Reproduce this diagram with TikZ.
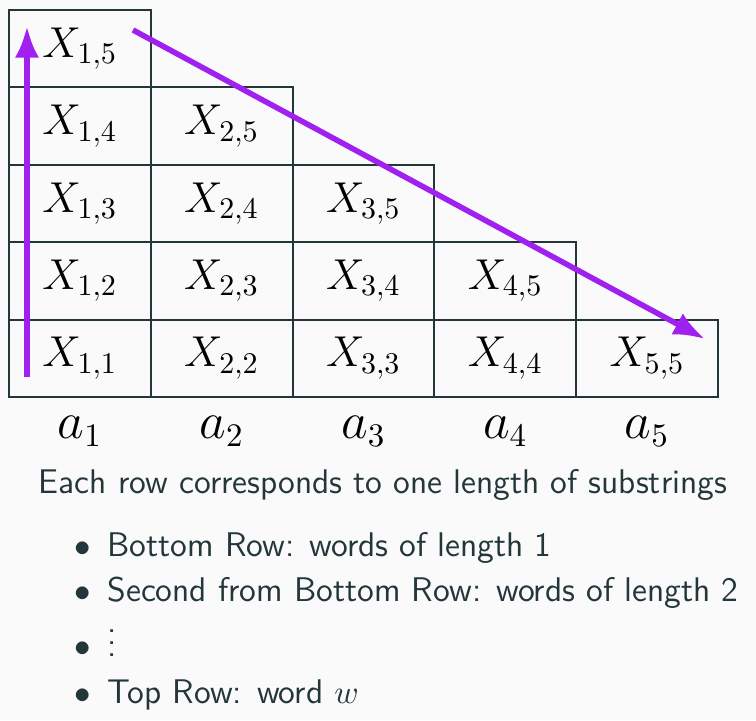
\documentclass[tikz,border=0pt]{standalone}
\usepackage{amsmath}
\usepackage{amssymb}
\usetikzlibrary{arrows.meta, positioning}

\definecolor{slidebg}{HTML}{FAFAFA}
\definecolor{slidefg}{HTML}{23373B}
\definecolor{arrowviolet}{HTML}{A020F0}

\begin{document}
\begin{tikzpicture}[
    x=0.3333pt, y=-0.3333pt,
    cell/.style={draw=slidefg, line width=0.65pt, minimum width=47.27pt, minimum height=25.8pt, inner sep=0pt, font=\fontsize{13.7}{16}\selectfont},
    lbl/.style={font=\fontsize{16}{19}\selectfont, inner sep=0pt},
    txt/.style={text=slidefg, font=\sffamily\fontsize{11.4}{13}\selectfont, inner sep=0pt},
    sweep/.style={draw=arrowviolet, line width=1.85pt, -{Latex[length=10.5pt, width=8pt]}}
]
% background and bounding box
\fill[slidebg] (0,0) rectangle (756,720);
\useasboundingbox (0,0) rectangle (756,720);

% Table cells
\foreach \i in {1,...,5} {
  \foreach \j in {\i,...,5} {
    \node[cell] (c\i\j) at ({9+141.8*(\i-0.5)}, {397-77.4*(\j-\i+0.5)}) {$X_{\i,\j}$};
  }
  \node[lbl] (a\i) at ({9+141.8*(\i-0.5)}, 431) {$a_{\i}$};
}

% Sweep arrows
\coordinate (upstart) at (27,377);
\coordinate (upend) at (27,26);
\coordinate (diagstart) at (133,30);
\coordinate (diagend) at (705,339);
\draw[sweep] (upstart) -- (upend);
\draw[sweep] (diagstart) -- (diagend);

% Caption and list
\node[txt, anchor=base] (cap) at (383,493) {Each row corresponds to one length of substrings};
\node[txt, anchor=base west] (it1) at (107,556) {Bottom Row: words of length 1};
\node[txt, anchor=base west] (it2) at (107,601) {Second from Bottom Row: words of length 2};
\node[txt, anchor=base west] (it3) at (107,656) {$\vdots$};
\node[txt, anchor=base west] (it4) at (107,703) {Top Row: word $w$};
\foreach \k in {1,...,4}
  \node[txt, anchor=base] (b\k) at ([xshift=-8pt]it\k.base west) {$\bullet$};
\end{tikzpicture}
\end{document}
